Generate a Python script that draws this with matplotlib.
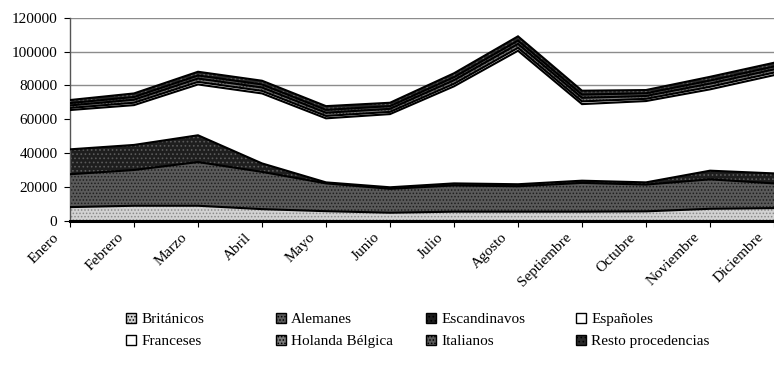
import matplotlib
matplotlib.use('Agg')
import matplotlib.pyplot as plt
import matplotlib.transforms as mtrans
from matplotlib.patches import Patch
import numpy as np

plt.rcParams['font.family'] = ['Liberation Serif', 'DejaVu Serif']
plt.rcParams['hatch.linewidth'] = 0.7

meses = ['Enero', 'Febrero', 'Marzo', 'Abril', 'Mayo', 'Junio', 'Julio',
         'Agosto', 'Septiembre', 'Octubre', 'Noviembre', 'Diciembre']

britanicos = [8200, 9000, 9000, 7000, 5800, 4900, 5500, 5500, 5500, 5700, 7200, 7600]
alemanes = [19400, 21100, 25800, 22000, 16400, 14100, 15500, 15000, 17000, 15800, 17400, 14600]
escandinavos = [14700, 14800, 15800, 5000, 600, 900, 1200, 1200, 1300, 1300, 5100, 5900]
espanoles = [23200, 23500, 30000, 41300, 37800, 43200, 57300, 78800, 45200, 48000, 48000, 58000]
franceses = [1200, 1400, 1500, 1500, 1400, 1300, 1500, 1700, 1600, 1300, 1500, 1500]
holanda_belgica = [1500, 1800, 2000, 2000, 1900, 1800, 2100, 2300, 2100, 1700, 1900, 1900]
italianos = [1400, 1600, 1800, 1800, 1700, 1600, 1800, 2000, 1900, 1600, 1800, 1700]
resto = [1800, 2100, 2200, 2200, 2200, 2000, 2300, 2500, 2300, 1900, 2200, 2200]

# name, values, face colour, dot colour, hatch
series = [
    ('Británicos', britanicos, '#d2d2d2', '#8a8a8a', '.....'),
    ('Alemanes', alemanes, '#5a5a5a', '#1e1e1e', '.....'),
    ('Escandinavos', escandinavos, '#1e1e1e', '#5a5a5a', '....'),
    ('Españoles', espanoles, 'white', 'white', ''),
    ('Franceses', franceses, 'white', 'white', ''),
    ('Holanda Bélgica', holanda_belgica, '#7a7a7a', '#2a2a2a', '.....'),
    ('Italianos', italianos, '#5a5a5a', '#1e1e1e', '.....'),
    ('Resto procedencias', resto, '#2a2a2a', '#6a6a6a', '....'),
]

fig = plt.figure(figsize=(7.74, 3.73), dpi=100)
ax = fig.add_axes([70/774, 1 - 221/373, 704/774, (221 - 17.7)/373])

x = np.arange(len(meses))
base = np.zeros(len(meses))
for name, vals, fc, hc, hatch in series:
    top = base + np.array(vals)
    ax.fill_between(x, base, top, facecolor=fc, edgecolor=hc, hatch=hatch,
                    linewidth=0, zorder=2)
    ax.plot(x, top, color='black', lw=1.5, zorder=3, solid_joinstyle='miter')
    base = top
ax.plot(x, np.zeros(len(meses)), color='black', lw=2.2, zorder=3, clip_on=False)

ax.set_xlim(0, 11)
ax.set_ylim(0, 120000)
ax.set_yticks(np.arange(0, 120001, 20000))
ax.set_yticklabels([str(v) for v in range(0, 120001, 20000)], fontsize=11)
ax.yaxis.grid(True, color='#8c8c8c', lw=1.0, zorder=0)
ax.set_axisbelow(True)

ax.set_xticks(x)
ax.set_xticklabels(meses, rotation=45, ha='right', va='top', fontsize=11)
ax.tick_params(axis='x', length=4, width=0.8, pad=3)
ax.tick_params(axis='y', length=4, width=0.8, pad=5)
shift = mtrans.ScaledTranslation(-8/100, 0, fig.dpi_scale_trans)
for lab in ax.get_xticklabels():
    lab.set_transform(lab.get_transform() + shift)

for s in ['top', 'right']:
    ax.spines[s].set_visible(False)
ax.spines['left'].set_color('#555555')
ax.spines['left'].set_linewidth(1.0)
ax.spines['bottom'].set_visible(False)

# legend laid out as four columns of two entries
cols_x = [126, 276, 426, 576]
for i, cx in enumerate(cols_x):
    handles = []
    for name, vals, fc, hc, hatch in (series[i], series[i + 4]):
        handles.append(Patch(facecolor=fc, edgecolor='black', hatch=hatch,
                             linewidth=1.0, label=name))
    fig.legend(handles=handles, loc='upper left',
               bbox_to_anchor=(cx/774, 1 - 313/373), frameon=False,
               fontsize=11, handlelength=0.65, handleheight=0.65,
               handletextpad=0.35, labelspacing=0.55, borderaxespad=0,
               borderpad=0)

fig.savefig('out.png', dpi=100)
